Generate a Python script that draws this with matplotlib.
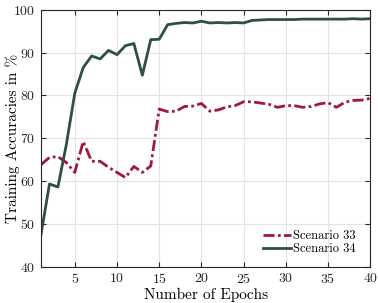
import matplotlib
matplotlib.use('Agg')
import matplotlib.pyplot as plt

plt.rcParams['font.family'] = 'serif'
plt.rcParams['font.serif'] = ['cmr10']
plt.rcParams['axes.formatter.use_mathtext'] = True
plt.rcParams['mathtext.fontset'] = 'cm'

epochs = list(range(1, 41))
scenario_33 = [63.8, 65.5, 65.7, 64.3, 62.0, 69.2, 64.6, 64.6, 63.2, 62.0,
               60.8, 63.4, 62.0, 63.5, 76.8, 76.2, 76.3, 77.4, 77.5, 78.1,
               76.3, 76.6, 77.3, 77.6, 78.5, 78.5, 78.2, 77.9, 77.2, 77.6,
               77.6, 77.2, 77.4, 78.0, 78.3, 77.2, 78.4, 78.8, 78.9, 79.3]
scenario_34 = [47.5, 59.3, 58.6, 68.5, 80.5, 86.5, 89.2, 88.5, 90.5, 89.5,
               91.6, 92.1, 84.7, 93.0, 93.1, 96.5, 96.8, 97.0, 96.9, 97.3,
               96.9, 97.0, 96.9, 97.0, 96.9, 97.5, 97.6, 97.7, 97.7, 97.7,
               97.7, 97.8, 97.8, 97.8, 97.8, 97.8, 97.8, 97.9, 97.8, 97.9]

fig = plt.figure(figsize=(3.78, 3.03), dpi=100)
ax = fig.add_axes([0.1085, 0.12, 0.871, 0.848])

ax.plot(epochs, scenario_33, color='#a2173c', linewidth=2.0,
        linestyle=(0, (4, 1.2, 1, 1.2)), label='Scenario 33')
ax.plot(epochs, scenario_34, color='#2e4e4a', linewidth=2.0,
        label='Scenario 34')

ax.set_xlim(1, 40)
ax.set_ylim(40, 100)
ax.set_xticks([5, 10, 15, 20, 25, 30, 35, 40])
ax.set_yticks([40, 50, 60, 70, 80, 90, 100])
ax.tick_params(direction='in', top=True, right=True, labelsize=10,
               length=3.5, width=0.8, colors='#262626', pad=4)
ax.grid(True, color='#e3e3e3', linewidth=0.8)
for s in ax.spines.values():
    s.set_color('#262626')
    s.set_linewidth(0.8)

ax.set_xlabel('Number of Epochs', fontsize=11, labelpad=1)
ax.set_ylabel('Training Accuracies in %', fontsize=11)
ax.yaxis.set_label_coords(-0.065, 0.5)

ax.legend(loc='lower right', frameon=False, fontsize=9,
          handlelength=2.2, handletextpad=0.15, borderaxespad=0.0,
          labelspacing=0.05, bbox_to_anchor=(0.97, 0.025))

fig.savefig('out.png', dpi=100)
